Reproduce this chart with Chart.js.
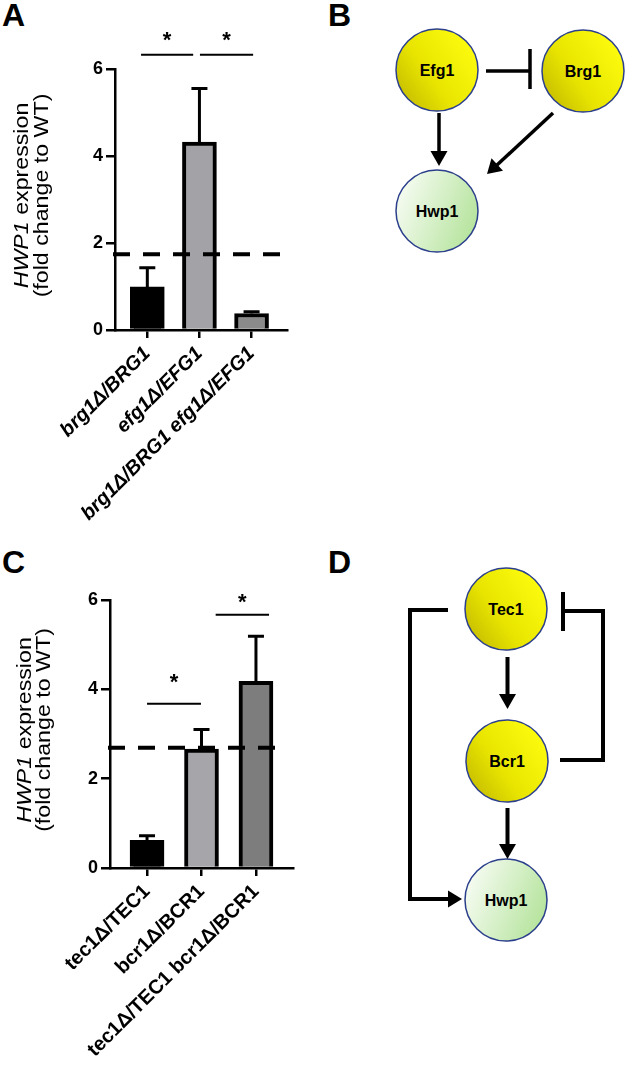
<!DOCTYPE html>
<html lang="en">
<head>
  <meta charset="UTF-8">
  <title>HWP1 expression</title>
  <style>
    body {
      margin: 0;
      background: #fff;
      font-family: "Liberation Sans", Arial, sans-serif;
    }
    .page {
      position: relative;
      width: 625px;
      height: 1065px;
      overflow: hidden;
    }
    #diagrams, .panel {
      position: absolute;
      left: 0;
    }
    #diagrams { top: 0; }
  </style>
  <script src="https://cdn.jsdelivr.net/npm/chart.js"></script>
</head>
<body>
  <div class="page">
    <svg id="diagrams" width="625" height="1065" font-family="Liberation Sans, Arial, sans-serif">
      <defs>
        <linearGradient id="yellow" x1="0" y1="0.85" x2="1" y2="0.15">
          <stop offset="0" stop-color="#c2b900"/>
          <stop offset="0.4" stop-color="#e8e400"/>
          <stop offset="1" stop-color="#ffff10"/>
        </linearGradient>
        <linearGradient id="green" x1="0" y1="0.3" x2="1" y2="0.7">
          <stop offset="0" stop-color="#f7fcf3"/>
          <stop offset="1" stop-color="#b4e39b"/>
        </linearGradient>
      </defs>

      <g font-weight="bold" font-size="32" fill="#000">
        <text x="2" y="26">A</text>
        <text x="328" y="26">B</text>
        <text x="2" y="573">C</text>
        <text x="328" y="573">D</text>
      </g>

      <!-- B -->
      <g stroke="#2b3f8c" stroke-width="1.5">
        <circle cx="437" cy="70" r="41" fill="url(#yellow)"/>
        <circle cx="583" cy="71" r="41" fill="url(#yellow)"/>
        <circle cx="437" cy="211" r="41" fill="url(#green)"/>
      </g>
      <g font-weight="bold" font-size="16" text-anchor="middle" fill="#000">
        <text x="437" y="76">Efg1</text>
        <text x="583" y="77">Brg1</text>
        <text x="437" y="217">Hwp1</text>
      </g>
      <g stroke="#000" stroke-width="3.5" fill="none">
        <line x1="486" y1="71" x2="530" y2="71"/>
        <line x1="530" y1="49" x2="530" y2="89"/>
        <line x1="439" y1="113" x2="439" y2="152"/>
        <line x1="553" y1="113" x2="497" y2="165"/>
      </g>
      <g fill="#000">
        <polygon points="430.5,151 447.5,151 439,166"/>
        <polygon points="503,170.7 491.5,158.3 487,174"/>
      </g>

      <!-- D -->
      <g stroke="#2b3f8c" stroke-width="1.5">
        <circle cx="506" cy="609" r="41" fill="url(#yellow)"/>
        <circle cx="507" cy="761" r="41" fill="url(#yellow)"/>
        <circle cx="506" cy="900" r="41" fill="url(#green)"/>
      </g>
      <g font-weight="bold" font-size="16" text-anchor="middle" fill="#000">
        <text x="506" y="615">Tec1</text>
        <text x="507" y="767">Bcr1</text>
        <text x="506" y="906">Hwp1</text>
      </g>
      <g stroke="#000" stroke-width="4" fill="none">
        <line x1="507.5" y1="657" x2="507.5" y2="695"/>
        <line x1="507.5" y1="808" x2="507.5" y2="845"/>
        <polyline points="448,610 410,610 410,899 450,899"/>
        <polyline points="560,760 603,760 603,611 563,611"/>
        <line x1="563" y1="592" x2="563" y2="631"/>
      </g>
      <g fill="#000">
        <polygon points="499,694 516,694 507.5,709"/>
        <polygon points="499,844 516,844 507.5,859"/>
        <polygon points="448,890.5 448,907.5 462,899"/>
      </g>
    </svg>

    <canvas id="chartA" class="panel" style="top:0" width="310" height="540"></canvas>
    <canvas id="chartC" class="panel" style="top:540px" width="310" height="525"></canvas>
  </div>

  <script>
    // shared y axis
    const yTicks = [0, 2, 4, 6];

    // panel A
    const labelsA = ['brg1Δ/BRG1', 'efg1Δ/EFG1', 'brg1Δ/BRG1 efg1Δ/EFG1'];
    const meanA = [0.99, 4.32, 0.38];
    const sdA = [0.44, 1.23, 0.04];
    const colorsA = ['#000000', '#a3a3a7', '#8a8a8a'];
    const cutoffA = 1.74;
    const sigFromA = [-0.12, 1.01];
    const sigToA = [0.88, 2.03];
    const sigYA = [6.33, 6.33];
    const starYA = [6.79, 6.79];

    // panel C
    const labelsC = ['tec1Δ/TEC1', 'bcr1Δ/BCR1', 'tec1Δ/TEC1 bcr1Δ/BCR1'];
    const meanC = [0.62, 2.66, 4.18];
    const sdC = [0.1, 0.44, 1.01];
    const colorsC = ['#000000', '#a6a6aa', '#7d7d7d'];
    const cutoffC = 2.69;
    const sigFromC = [0, 1.26];
    const sigToC = [0.99, 2.24];
    const sigYC = [3.68, 5.67];
    const starYC = [4.28, 6.07];

    Chart.defaults.font.family = "'Liberation Sans', Arial, sans-serif";
    Chart.defaults.color = '#000';

    function drawYTitle(ctx, x, cy, parts) {
      ctx.save();
      ctx.translate(x, cy);
      ctx.rotate(-Math.PI / 2);
      ctx.scale(1.16, 1);
      ctx.textBaseline = 'middle';
      ctx.textAlign = 'left';
      const fontOf = p => (p.italic ? 'italic ' : '') + "20px 'Liberation Sans', Arial, sans-serif";
      let total = 0;
      parts.forEach(p => { ctx.font = fontOf(p); total += ctx.measureText(p.t).width; });
      let pos = -total / 2;
      parts.forEach(p => {
        ctx.font = fontOf(p);
        ctx.fillText(p.t, pos, 0);
        pos += ctx.measureText(p.t).width;
      });
      ctx.restore();
    }

    function makePanel(id, p) {
      const extras = {
        id: 'extras',
        afterDatasetsDraw(chart) {
          const { ctx, chartArea, scales: { x, y } } = chart;
          ctx.save();
          ctx.strokeStyle = '#000';

          // upper error bars
          ctx.lineWidth = 3;
          p.mean.forEach((m, i) => {
            const px = x.getPixelForValue(i);
            const top = y.getPixelForValue(m + p.sd[i]);
            ctx.beginPath();
            ctx.moveTo(px, y.getPixelForValue(m));
            ctx.lineTo(px, top);
            ctx.moveTo(px - 8, top);
            ctx.lineTo(px + 8, top);
            ctx.stroke();
          });

          // dashed cutoff line
          const cy = y.getPixelForValue(p.cutoff);
          ctx.lineWidth = 4;
          ctx.setLineDash([17, 13]);
          ctx.beginPath();
          ctx.moveTo(chartArea.left - 2, cy);
          ctx.lineTo(chartArea.right - p.dashTrim, cy);
          ctx.stroke();
          ctx.setLineDash([]);

          // significance bars
          ctx.lineWidth = 2;
          ctx.fillStyle = '#000';
          ctx.font = "bold 22px 'Liberation Sans', Arial, sans-serif";
          ctx.textAlign = 'center';
          ctx.textBaseline = 'alphabetic';
          p.sigFrom.forEach((f, i) => {
            const x0 = x.getPixelForValue(f);
            const x1 = x.getPixelForValue(p.sigTo[i]);
            const ly = y.getPixelForValue(p.sigY[i]);
            ctx.beginPath();
            ctx.moveTo(x0, ly);
            ctx.lineTo(x1, ly);
            ctx.stroke();
            ctx.fillText('*', (x0 + x1) / 2, y.getPixelForValue(p.starY[i]) + 12.5);
          });

          // y axis title
          const mid = (chartArea.top + chartArea.bottom) / 2 - 4;
          drawYTitle(ctx, p.titleX[0], mid, [{ t: 'HWP1', italic: true }, { t: ' expression' }]);
          drawYTitle(ctx, p.titleX[1], mid, [{ t: '(fold change to WT)' }]);
          ctx.restore();
        }
      };

      return new Chart(document.getElementById(id), {
        type: 'bar',
        data: {
          datasets: [{
            data: p.mean.map((v, i) => ({ x: i, y: v })),
            backgroundColor: p.colors,
            borderColor: '#000',
            borderWidth: 4,
            barThickness: 34
          }]
        },
        options: {
          responsive: false,
          animation: false,
          events: [],
          layout: { padding: p.padding },
          plugins: { legend: { display: false }, tooltip: { enabled: false } },
          scales: {
            x: {
              type: 'linear',
              min: p.xMin,
              max: p.xMax,
              offset: false,
              afterBuildTicks: s => { s.ticks = p.labels.map((_, i) => ({ value: i })); },
              afterFit: s => { s.height = p.xHeight; },
              grid: { offset: false, drawOnChartArea: false, drawTicks: true, tickLength: 8, color: '#000', lineWidth: 2.5 },
              border: { display: true, color: '#000', width: 2.5 },
              ticks: {
                autoSkip: false,
                minRotation: 45,
                maxRotation: 45,
                padding: 4,
                color: '#000',
                font: { size: 20, weight: 'bold', style: p.italic ? 'italic' : 'normal' },
                callback: v => p.labels[v]
              }
            },
            y: {
              min: 0,
              max: 6,
              afterBuildTicks: s => { s.ticks = yTicks.map(v => ({ value: v })); },
              afterFit: s => { s.width = p.yWidth; },
              grid: { drawOnChartArea: false, drawTicks: true, tickLength: 9, color: '#000', lineWidth: 2.5 },
              border: { display: true, color: '#000', width: 2.5 },
              ticks: { padding: 3, color: '#000', font: { size: 18, weight: 'bold' } }
            }
          }
        },
        plugins: [extras]
      });
    }

    makePanel('chartA', {
      labels: labelsA, mean: meanA, sd: sdA, colors: colorsA, cutoff: cutoffA,
      sigFrom: sigFromA, sigTo: sigToA, sigY: sigYA, starY: starYA,
      xMin: -0.62, xMax: 2.68, yWidth: 115, xHeight: 210,
      padding: { left: 0, top: 69, right: 23, bottom: 0 },
      dashTrim: 4, titleX: [22, 42], italic: true
    });

    makePanel('chartC', {
      labels: labelsC, mean: meanC, sd: sdC, colors: colorsC, cutoff: cutoffC,
      sigFrom: sigFromC, sigTo: sigToC, sigY: sigYC, starY: starYC,
      xMin: -0.68, xMax: 2.68, yWidth: 110, xHeight: 197,
      padding: { left: 0, top: 60, right: 17, bottom: 0 },
      dashTrim: 13, titleX: [25, 44], italic: false
    });
  </script>
</body>
</html>
